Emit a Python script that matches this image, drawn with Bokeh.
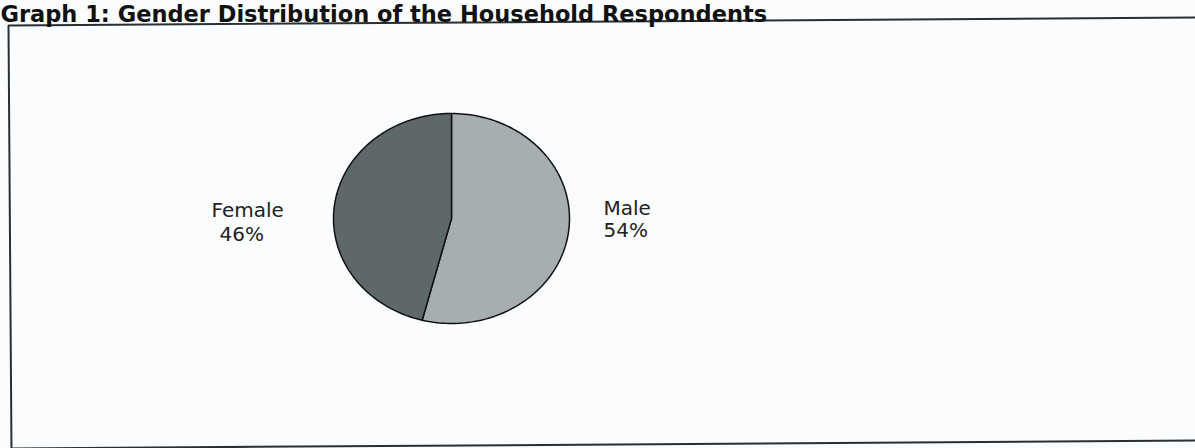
import numpy as np
from bokeh.plotting import figure
from bokeh.models import Range1d
from bokeh.core.properties import value
from bokeh.embed import file_html
from bokeh.resources import INLINE

title = "Graph 1: Gender Distribution of the Household Respondents"
categories = ["Male", "Female"]
shares = [54, 46]
colors = ["#a6aeb1", "#5e676a"]

W, H = 1195, 448
p = figure(width=W, height=H, output_backend="svg", toolbar_location=None,
           x_range=Range1d(0, W), y_range=Range1d(H, 0), min_border=0)
p.axis.visible = False
p.grid.visible = False
p.outline_line_color = None
p.background_fill_color = "#fafcfd"
p.border_fill_color = "#fafcfd"

# frame box (scan is slightly rotated; right edge lies off-page)
p.line([1200, 8, 11], [17, 25, 452], line_color="#2a2f31", line_width=2)
p.line([11, 1200], [448, 440], line_color="#2a2f31", line_width=2)

# title
p.text([0], [0], text=[title], text_font=value("DejaVu Sans"), text_font_style="bold",
       text_font_size="22.5px", text_color="#111", text_baseline="top", text_align="left")

# pie as elliptical wedges, clockwise from 12 o'clock
cx, cy, rx, ry = 451, 218, 118, 105
total = float(sum(shares))
start = np.pi / 2
xs, ys = [], []
for s in shares:
    sweep = 2 * np.pi * s / total
    t = np.linspace(start, start - sweep, 120)
    xs.append([cx] + list(cx + rx * np.cos(t)) + [cx])
    ys.append([cy] + list(cy - ry * np.sin(t)) + [cy])
    start -= sweep
p.patches(xs, ys, fill_color=colors, line_color="#111", line_width=1.5)

# labels
lab_x = [603, 211]
lab_y = [207, 209]
pct_x = [603, 219]
pct_y = [229, 233]
p.text(lab_x, lab_y, text=categories, text_font=value("DejaVu Sans"),
       text_font_size="20px", text_color="#222", text_baseline="alphabetic")
p.text(pct_x, pct_y, text=[f"{s}%" for s in shares], text_font=value("DejaVu Sans"),
       text_font_size="20px", text_color="#222", text_baseline="alphabetic")

open("out.html", "w").write(file_html(p, INLINE))
